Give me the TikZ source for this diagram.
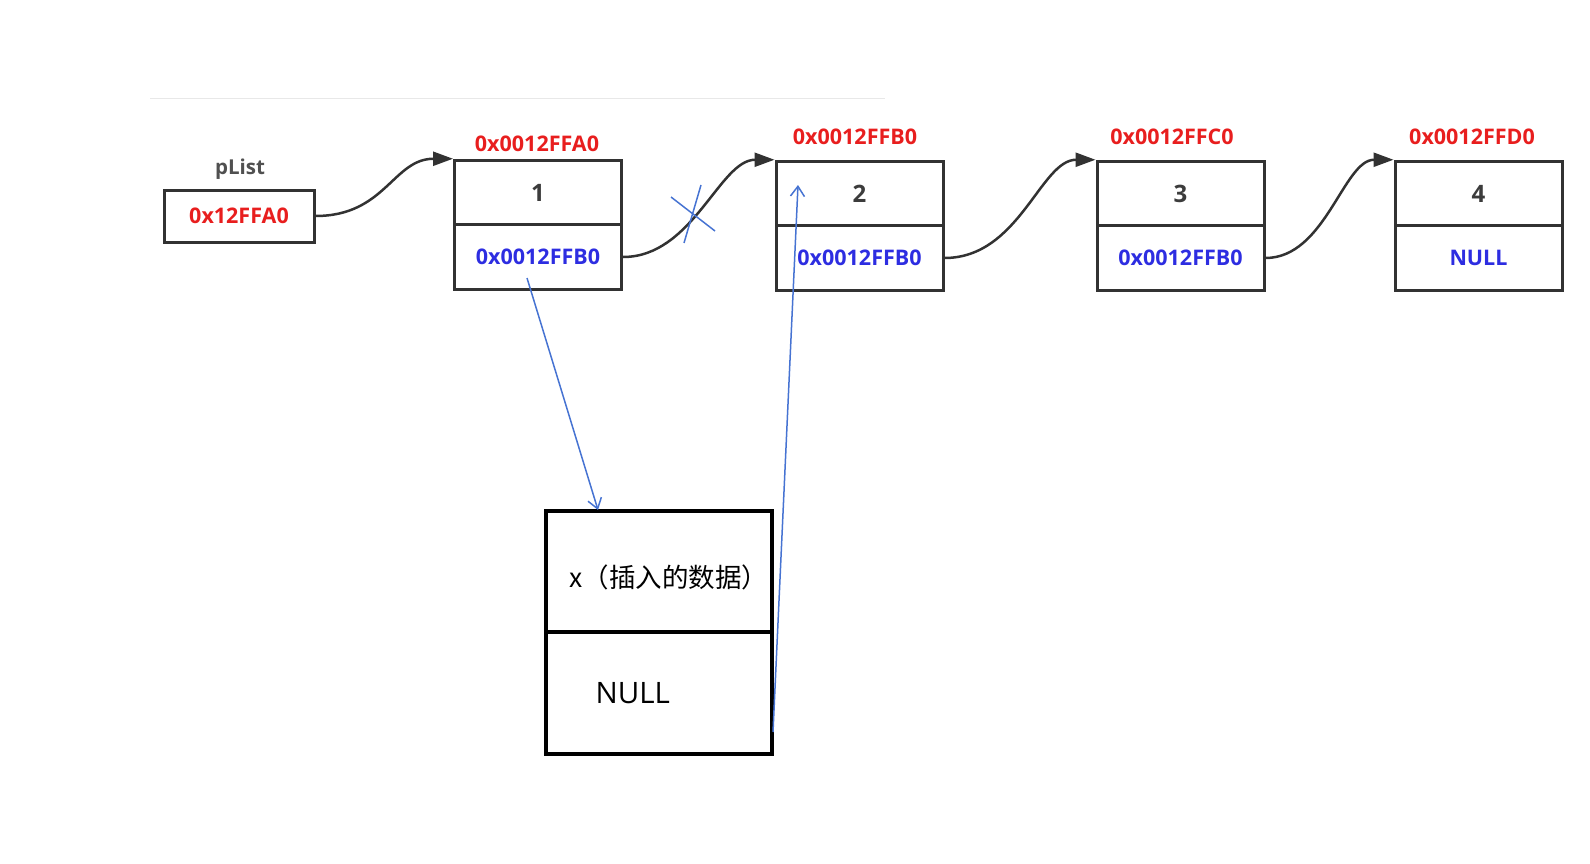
\documentclass[tikz,border=0pt]{standalone}
\usepackage{fontspec}
\setmainfont{Open Sans}
\newfontfamily\cjk{Noto Sans CJK SC}
\usetikzlibrary{arrows.meta}
\definecolor{lred}{RGB}{232,30,30}
\definecolor{lblue}{RGB}{45,45,225}
\definecolor{lineblue}{RGB}{70,115,210}
\definecolor{bord}{RGB}{50,50,50}
\definecolor{txtgray}{RGB}{60,60,60}
\definecolor{rulegray}{RGB}{232,232,232}
\begin{document}
\begin{tikzpicture}[x=1pt,y=-1pt,
  cell/.style={draw=bord, line width=3pt, minimum width=167pt, minimum height=64.5pt, inner sep=0pt},
  addr/.style={text=lred, font=\bfseries\fontsize{21.5}{25}\selectfont},
  val/.style={text=txtgray, font=\bfseries\fontsize{24}{28}\selectfont},
  ptr/.style={text=lblue, font=\bfseries\fontsize{21.5}{25}\selectfont},
  link/.style={draw=bord, line width=2.5pt, -{Triangle[length=20pt,width=14pt]}},
  bluearrow/.style={draw=lineblue, line width=1.5pt, -{Straight Barb[length=10pt,width=14pt]}},
  blueline/.style={draw=lineblue, line width=1.5pt},
  bigcell/.style={draw=black, line width=3.5pt, minimum width=226pt, inner sep=0pt}
]
\useasboundingbox (0,0) rectangle (1590,864);
% faint rule
\coordinate (r1) at (150,99);
\coordinate (r2) at (885,99);
\draw[rulegray, line width=1pt] (r1) -- (r2);

% head pointer
\node[draw=bord, line width=3pt, minimum width=150pt, minimum height=52pt, inner sep=0pt, addr] (p) at (239,216) {0x12FFA0};
\node[text=txtgray!90, font=\bfseries\fontsize{20.5}{24}\selectfont] (pl) at (240,169) {pList};

% nodes
\node[cell,val] (n1a) at (538,192.5) {1};
\node[cell,ptr] (n1b) at (538,257) {0x0012FFB0};
\node[cell,val] (n2a) at (859.5,193.5) {2};
\node[cell,ptr] (n2b) at (859.5,258) {0x0012FFB0};
\node[cell,val] (n3a) at (1180.5,193.5) {3};
\node[cell,ptr] (n3b) at (1180.5,258) {0x0012FFB0};
\node[cell,val] (n4a) at (1478.5,193.5) {4};
\node[cell,ptr] (n4b) at (1478.5,258) {NULL};

% address labels
\node[addr] (l1) at (537,144) {0x0012FFA0};
\node[addr] (l2) at (855,137) {0x0012FFB0};
\node[addr] (l3) at (1172,137) {0x0012FFC0};
\node[addr] (l4) at (1472,137) {0x0012FFD0};

% links
\draw[link] (p.east) .. controls +(70,0) and +(-60,0) .. (n1a.north west);
\draw[link] (n1b.east) .. controls +(70,0) and +(-55,0) .. (n2a.north west);
\draw[link] (n2b.east) .. controls +(75,0) and +(-55,0) .. (n3a.north west);
\draw[link] (n3b.east) .. controls +(60,0) and +(-50,0) .. (n4a.north west);

% cross
\coordinate (c1) at (671,197);
\coordinate (c2) at (715,231);
\coordinate (c3) at (701,185);
\coordinate (c4) at (684,243);
\draw[blueline] (c1) -- (c2);
\draw[blueline] (c3) -- (c4);

% new node
\node[bigcell, minimum height=121pt] (xa) at (659,571.5) {};
\node[bigcell, minimum height=122pt] (xb) at (659,693) {};
\node[anchor=west, font=\cjk\fontsize{26.5}{32}\selectfont] (xt) at (566,577) {x（插入的数据）};
\node[anchor=west, font=\fontsize{29.5}{36}\selectfont] (xn) at (592,693) {NULL};

% blue arrows
\coordinate (d1) at (527,278);
\coordinate (d2) at (598,510);
\draw[bluearrow] (d1) -- (d2);
\coordinate (u1) at (773,732);
\coordinate (u2) at (798,185);
\draw[bluearrow] (u1) -- (u2);
\end{tikzpicture}
\end{document}
